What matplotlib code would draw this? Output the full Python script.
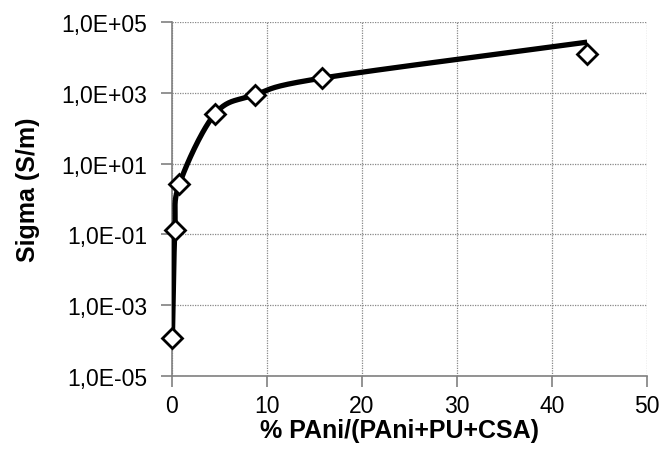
import numpy as np
import matplotlib
matplotlib.use("Agg")
import matplotlib.pyplot as plt
from matplotlib.ticker import FixedLocator, FuncFormatter, NullLocator

# data
pani_pct = [0.05, 0.3, 0.77, 4.5, 8.7, 15.8, 43.7]
sigma = [1.2e-4, 0.135, 2.6, 250, 870, 2600, 12500]
# smoothed line series
line_x = [0.05, 0.3, 0.77, 4.5, 8.7, 15.8, 43.7]
line_y = [1.5e-4, 0.135, 2.6, 250, 870, 2600, 27000]

y_ticks = [1e-5, 1e-3, 1e-1, 1e1, 1e3, 1e5]
x_ticks = [0, 10, 20, 30, 40, 50]

plt.rcParams['font.family'] = ['Liberation Sans', 'DejaVu Sans']

fig = plt.figure(figsize=(6.62, 4.52), dpi=100)
ax = fig.add_axes([172/662, 1-377/452, (647-172)/662, (377-23)/452])
ax.set_yscale('log')
ax.set_xlim(0, 50)
ax.set_ylim(1e-5, 1e5)


def catmull(xs, ys, n=40):
    X = np.array(xs, float)
    Y = np.log10(np.array(ys, float))
    sx, sy = 9.5, 35.4
    P = np.column_stack([X * sx, Y * sy])
    P = np.vstack([P[0] - (P[1] - P[0]), P, P[-1] + (P[-1] - P[-2])])
    out = []
    for i in range(1, len(P) - 2):
        p0, p1, p2, p3 = P[i - 1], P[i], P[i + 1], P[i + 2]
        t = np.linspace(0, 1, n)[:, None]
        c = 0.5 * ((2 * p1) + (-p0 + p2) * t + (2 * p0 - 5 * p1 + 4 * p2 - p3) * t**2
                   + (-p0 + 3 * p1 - 3 * p2 + p3) * t**3)
        out.append(c)
    C = np.vstack(out)
    return C[:, 0] / sx, 10 ** (C[:, 1] / sy)


cx, cy = catmull(line_x, line_y)
ax.plot(cx, cy, color='black', lw=3.8, solid_capstyle='butt', zorder=3)
ax.plot(pani_pct, sigma, linestyle='none', marker='D', markersize=10.5,
        markerfacecolor='white', markeredgecolor='black', markeredgewidth=2, zorder=4,
        clip_on=False)

ax.yaxis.set_major_locator(FixedLocator(y_ticks))
ax.yaxis.set_minor_locator(NullLocator())
ax.set_xticks(x_ticks)


def fmt(v, pos):
    e = int(round(np.log10(v)))
    s = '+' if e >= 0 else '-'
    return f"1,0E{s}{abs(e):02d}"


ax.yaxis.set_major_formatter(FuncFormatter(fmt))
ax.grid(True, color='#888888', linestyle=(0, (1, 1)), linewidth=0.9)
ax.set_axisbelow(True)
for s in ['top', 'right']:
    ax.spines[s].set_visible(False)
for s in ['left', 'bottom']:
    ax.spines[s].set_color('#808080')
    ax.spines[s].set_linewidth(1.2)
ax.tick_params(axis='both', direction='out', length=8, width=1.2, color='#808080',
               labelsize=16.5, labelcolor='black')
ax.tick_params(axis='y', pad=10)
ax.tick_params(axis='x', pad=5)

ax.set_xlabel('% PAni/(PAni+PU+CSA)', fontsize=18, fontweight='bold')
ax.set_ylabel('Sigma (S/m)', fontsize=18, fontweight='bold')
ax.xaxis.set_label_coords((399 - 172) / 475, (377 - 419) / 354)
ax.yaxis.set_label_coords((40 - 172) / 475, (377 - 190) / 354)

fig.savefig('out.png', dpi=100)
